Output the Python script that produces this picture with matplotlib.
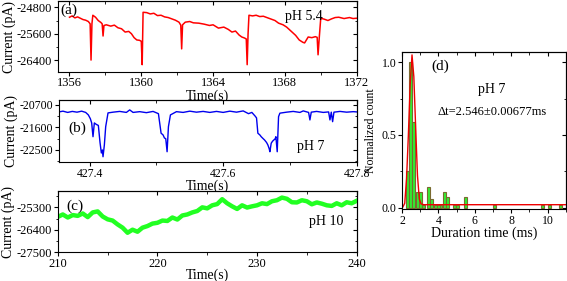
import matplotlib
matplotlib.use("Agg")
import matplotlib.pyplot as plt
from matplotlib.ticker import AutoMinorLocator

plt.rcParams['font.family'] = ['Liberation Serif', 'DejaVu Serif']
plt.rcParams['font.size'] = 10
plt.rcParams['axes.unicode_minus'] = False

# (a) pH 5.4 trace
t_a = [1356.0, 1356.15, 1356.3, 1356.45, 1356.6, 1356.75, 1356.9, 1357.05, 1357.15, 1357.2,
       1357.25, 1357.3, 1357.45, 1357.6, 1357.75, 1357.82, 1357.87, 1357.92, 1358.05, 1358.3,
       1358.5, 1358.7, 1358.9, 1359.1, 1359.3, 1359.45, 1359.6, 1359.75, 1359.9, 1360.0,
       1360.05, 1360.1, 1360.3, 1360.5, 1360.7, 1360.9, 1361.1, 1361.3, 1361.5, 1361.7,
       1361.9, 1362.1, 1362.2, 1362.25, 1362.3, 1362.45, 1362.7, 1362.9, 1363.2, 1363.5,
       1363.8, 1364.0, 1364.3, 1364.6, 1364.85, 1365.05, 1365.25, 1365.45, 1365.6, 1365.75,
       1365.85, 1365.9, 1365.95, 1366.0, 1366.2, 1366.4, 1366.6, 1366.8, 1366.95, 1367.2,
       1367.45, 1367.65, 1367.9, 1368.1, 1368.4, 1368.6, 1368.8, 1369.0, 1369.1, 1369.3,
       1369.5, 1369.7, 1369.8, 1369.85, 1369.92, 1370.0, 1370.2, 1370.4, 1370.6, 1370.8,
       1371.0, 1371.3, 1371.6, 1371.8, 1372.0]
i_a = [-25100, -25060, -25120, -25090, -25130, -25170, -25190, -25230, -25300, -26400,
       -25300, -25040, -25100, -25200, -25260, -25300, -25670, -25350, -25330, -25370,
       -25340, -25420, -25450, -25550, -25530, -25600, -25720, -25790, -25800, -25830,
       -26540, -24950, -24960, -25000, -24980, -25050, -25040, -25090, -25110, -25150,
       -25190, -25250, -25340, -26060, -25330, -25250, -25230, -25270, -25280, -25310,
       -25350, -25330, -25430, -25400, -25470, -25550, -25520, -25640, -25700, -25730,
       -25760, -26540, -25600, -25040, -25060, -25040, -25080, -25070, -25100, -25150,
       -25200, -25280, -25330, -25400, -25550, -25650, -25790, -25860, -25880, -25700,
       -25720, -25690, -25710, -26240, -25700, -25130, -25160, -25200, -25150, -25110,
       -25100, -25140, -25110, -25140, -25130]

# (b) pH 7 trace
t_b = [427.354, 427.36, 427.367, 427.374, 427.381, 427.388, 427.394, 427.398, 427.401, 427.403,
       427.405, 427.407, 427.41, 427.413, 427.4155, 427.4175, 427.419, 427.42, 427.422, 427.424,
       427.4275, 427.435, 427.445, 427.455, 427.46, 427.465, 427.475, 427.485, 427.495, 427.503,
       427.507, 427.51, 427.512, 427.514, 427.516, 427.518, 427.521, 427.53, 427.54, 427.55,
       427.56, 427.57, 427.58, 427.59, 427.60, 427.61, 427.62, 427.63, 427.638, 427.643,
       427.648, 427.65, 427.652, 427.655, 427.657, 427.66, 427.662, 427.665, 427.667, 427.669,
       427.670, 427.672, 427.674, 427.676, 427.678, 427.679, 427.681, 427.683, 427.685, 427.695,
       427.705, 427.715, 427.72, 427.728, 427.73, 427.732, 427.74, 427.75, 427.758, 427.76,
       427.762, 427.764, 427.766, 427.775, 427.785, 427.795, 427.8]
i_b = [-20980, -20950, -21000, -20960, -20990, -20950, -21000, -21100, -21250, -21420,
       -21970, -21420, -21480, -21520, -22200, -22620, -22500, -22770, -22300, -21570,
       -21020, -20990, -20960, -21000, -20900, -21000, -20970, -21010, -20960, -21050,
       -21830, -21900, -22020, -22050, -22570, -21570, -21100, -20970, -21000, -20950,
       -20990, -20960, -21000, -20960, -21000, -20950, -20990, -20940, -21050, -21000,
       -21150, -21220, -21830, -21900, -21970, -22050, -22100, -22200, -22300, -22450,
       -22570, -22230, -22150, -22100, -22050, -21970, -22570, -21170, -21030, -20990,
       -20960, -21000, -20940, -21000, -21300, -20990, -20960, -21000, -20980, -21300,
       -20990, -21370, -20990, -20960, -20990, -20970, -20980]

# (c) pH 10 trace
t_c = [210, 210.5, 211, 211.5, 212, 212.5, 213, 213.5, 214, 214.5, 215, 215.5, 216, 216.5,
       217, 217.5, 218, 218.5, 219, 219.5, 220, 220.5, 221, 221.5, 222, 222.5, 223, 223.5,
       224, 224.5, 225, 225.5, 226, 226.5, 227, 227.5, 228, 228.5, 229, 229.5, 230, 230.5,
       231, 231.5, 232, 232.5, 233, 233.5, 234, 234.5, 235, 235.5, 236, 236.5, 237, 237.5,
       238, 238.5, 239, 239.5, 240]
i_c = [-25770, -25650, -25800, -25680, -25720, -25600, -25780, -25550, -25500, -25750,
       -25890, -25950, -26140, -26300, -26550, -26400, -26500, -26300, -26220, -26100,
       -26060, -25950, -25970, -25800, -25900, -25700, -25650, -25550, -25480, -25300,
       -25350, -25200, -25140, -24900, -25100, -25250, -25380, -25200, -25310, -25250,
       -25200, -25100, -25140, -25000, -24950, -24820, -24880, -25050, -25060, -24950,
       -25000, -25150, -25060, -25120, -25200, -25230, -25100, -25200, -25050, -25100,
       -24980]

# (d) dwell time histogram + fit
bin_centers = [2.29, 2.47, 2.65, 2.83, 3.01, 3.19, 3.46, 3.64, 3.82, 3.98, 4.14, 4.31, 4.49,
               4.87, 5.05, 5.49, 7.10, 9.70, 10.10, 10.70]
counts = [0.255, 1.0, 0.59, 0.105, 0.105, 0.02, 0.145, 0.06, 0.02, 0.02, 0.02, 0.105, 0.07,
          0.02, 0.02, 0.07, 0.02, 0.02, 0.02, 0.02]
fit_x = [2.05, 2.15, 2.25, 2.35, 2.45, 2.55, 2.65, 2.75, 2.85, 2.95, 3.05, 3.2, 11.0]
fit_y = [0.005, 0.03, 0.2, 0.5, 0.85, 1.05, 0.9, 0.55, 0.22, 0.06, 0.025, 0.02, 0.02]


def style_axes(ax, xminor=2, yminor=2, size=9):
    ax.xaxis.set_minor_locator(AutoMinorLocator(xminor))
    ax.yaxis.set_minor_locator(AutoMinorLocator(yminor))
    ax.tick_params(which='both', direction='out', top=False, right=False, labelsize=size, pad=1)
    ax.tick_params(which='major', length=3)
    ax.tick_params(which='minor', length=1.8)
    # inward ticks on the top and right edges
    top = ax.secondary_xaxis('top')
    top.set_xticks(ax.get_xticks())
    top.xaxis.set_minor_locator(AutoMinorLocator(xminor))
    top.tick_params(which='both', direction='in', labeltop=False)
    top.tick_params(which='major', length=3)
    top.tick_params(which='minor', length=1.8)
    right = ax.secondary_yaxis('right')
    right.set_yticks(ax.get_yticks())
    right.yaxis.set_minor_locator(AutoMinorLocator(yminor))
    right.tick_params(which='both', direction='in', labelright=False)
    right.tick_params(which='major', length=3)
    right.tick_params(which='minor', length=1.8)


fig = plt.figure(figsize=(5.67, 2.81), dpi=100)

# (a)
ax1 = fig.add_axes([0.102, 0.744, 0.527, 0.251])
ax1.plot(t_a, i_a, color='#ff0000', lw=1.1)
ax1.set_xlim(1355.35, 1372)
ax1.set_ylim(-26760, -24620)
ax1.set_xticks([1356, 1360, 1364, 1368, 1372])
ax1.set_yticks([-24800, -25600, -26400])
ax1.set_xlabel("Time(s)", labelpad=0)
ax1.set_ylabel("Current (pA)", labelpad=1)
ax1.text(0.01, 0.97, "(a)", transform=ax1.transAxes, ha='left', va='top', fontsize=11)
ax1.text(0.76, 0.88, "pH 5.4", transform=ax1.transAxes, ha='left', va='top')
style_axes(ax1)

# (b)
ax2 = fig.add_axes([0.104, 0.4235, 0.525, 0.221])
ax2.plot(t_b, i_b, color='#0000ee', lw=1.0)
ax2.set_xlim(427.354, 427.8)
ax2.set_ylim(-22980, -20500)
ax2.set_xticks([427.4, 427.6, 427.8])
ax2.set_yticks([-20700, -21600, -22500])
ax2.set_xlabel("Time(s)", labelpad=0)
ax2.set_ylabel("Current (pA)", labelpad=1)
ax2.text(0.03, 0.55, "(b)", transform=ax2.transAxes, ha='left', va='center', fontsize=11)
ax2.text(0.8, 0.25, "pH 7", transform=ax2.transAxes, ha='left', va='center')
style_axes(ax2, size=8.5)

# (c)
ax3 = fig.add_axes([0.102, 0.1030, 0.527, 0.217])
ax3.plot(t_c, i_c, color='#22ff22', lw=3.2)
ax3.set_xlim(210, 240)
ax3.set_ylim(-27500, -24500)
ax3.set_xticks([210, 220, 230, 240])
ax3.set_yticks([-25300, -26400, -27500])
ax3.set_xlabel("Time(s)", labelpad=-1)
ax3.set_ylabel("Current (pA)", labelpad=1)
ax3.text(0.03, 0.86, "(c)", transform=ax3.transAxes, ha='left', va='top', fontsize=11)
ax3.text(0.84, 0.5, "pH 10", transform=ax3.transAxes, ha='left', va='center')
style_axes(ax3)

# (d)
ax4 = fig.add_axes([0.709, 0.256, 0.289, 0.559])
ax4.bar(bin_centers, counts, width=0.16, color='#33ee33', edgecolor='#7a6a30', linewidth=0.8)
ax4.plot(fit_x, fit_y, color='#ee0000', lw=1.0)
ax4.set_xlim(2, 11)
ax4.set_ylim(-0.01, 1.07)
ax4.set_xticks([2, 4, 6, 8, 10])
ax4.set_yticks([0.0, 0.5, 1.0])
ax4.set_xlabel("Duration time (ms)", labelpad=0)
ax4.set_ylabel("Normalized count", fontsize=8.5)
ax4.yaxis.set_label_coords(-0.152, 0.5)
ax4.text(0.18, 0.95, "(d)", transform=ax4.transAxes, ha='left', va='top', fontsize=11)
ax4.text(0.55, 0.76, "pH 7", transform=ax4.transAxes, ha='center', va='center')
ax4.text(0.55, 0.62, "\u0394t=2.546\u00b10.00677ms", transform=ax4.transAxes,
         ha='center', va='center', fontsize=9)
style_axes(ax4, size=8.5)

fig.savefig("out.png", dpi=100)
